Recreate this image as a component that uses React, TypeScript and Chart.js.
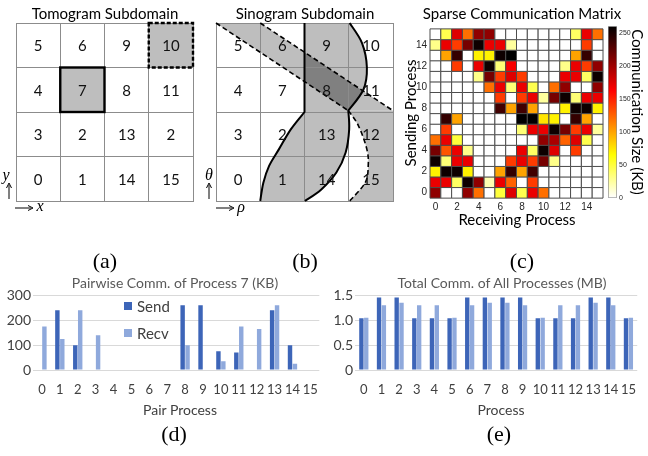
import React, { useEffect, useRef } from "react";
import { Chart, registerables } from "chart.js";
Chart.register(...registerables);

// ---------------- data ----------------
const tomogramLabels = [
  ["5", "6", "9", "10"],
  ["4", "7", "8", "11"],
  ["3", "2", "13", "2"],
  ["0", "1", "14", "15"],
];
const sinogramLabels = [
  ["5", "6", "9", "10"],
  ["4", "7", "8", "11"],
  ["3", "2", "13", "12"],
  ["0", "1", "14", "15"],
];
// highlighted tomogram cells (col = x cell, row = y cell from bottom)
const tomogramHighlights = [
  { col: 1, row: 2, dashed: false },
  { col: 3, row: 3, dashed: true },
];
// sinogram subdomain outlines, in (rho, theta) grid units
const sinoStraightLeft = [[2, 4], [2, 2]];
const sinoCurveLeft = [[2, 2], [1.69, 1.61], [1.42, 1.16], [1.2, 0.79], [1.07, 0.41], [1.0, 0]];
const sinoCurveRightUpper = [[3.02, 4], [3.3, 3.55], [3.41, 3.0], [3.33, 2.5], [2.99, 2.03]];
const sinoCurveRightLower = [[2.99, 2.03], [3.01, 1.61], [2.93, 1.09], [2.72, 0.64], [2.38, 0.26], [2.01, 0]];
const sinoDashLineA = [[0, 4], [2.99, 2.03]];
const sinoDashLineB = [[1, 4], [4, 2.03]];
const sinoDashCurve = [[2.99, 2.03], [3.22, 1.69], [3.41, 1.16], [3.44, 0.79], [3.37, 0.41], [3.02, 0]];
const sinoDiagBand = [[0, 4], [1, 4], [4, 2.03], [2.99, 2.03]];
const sinoRightBandEdge = [[2.99, 2.03], [4, 2.03], [4, 0], [3.02, 0]];

const processLabels = ["0", "1", "2", "3", "4", "5", "6", "7", "8", "9", "10", "11", "12", "13", "14", "15"];
const matrixTicks = [0, 2, 4, 6, 8, 10, 12, 14];
const colorbarTicks = [0, 50, 100, 150, 200, 250];
const colorbarMax = 260;
// commMatrix[sending][receiving] in KB
const commMatrix = [
  [205, 0, 0, 205, 120, 0, 50, 175, 45, 170, 120, 0, 0, 0, 0, 0],
  [170, 170, 40, 255, 205, 20, 170, 125, 0, 140, 0, 0, 0, 0, 0, 0],
  [70, 255, 255, 70, 0, 0, 100, 240, 100, 235, 0, 0, 0, 0, 0, 0],
  [255, 35, 170, 170, 0, 0, 0, 140, 170, 140, 215, 30, 0, 0, 0, 0],
  [215, 130, 170, 30, 0, 0, 0, 0, 170, 40, 255, 175, 0, 140, 0, 0],
  [120, 170, 50, 0, 0, 0, 0, 0, 0, 0, 205, 195, 125, 175, 45, 0],
  [0, 140, 0, 0, 0, 0, 0, 0, 35, 170, 170, 255, 215, 140, 170, 25],
  [0, 240, 100, 0, 0, 0, 0, 0, 260, 260, 75, 70, 0, 240, 100, 0],
  [0, 0, 0, 0, 0, 0, 235, 100, 235, 100, 0, 0, 70, 255, 255, 70],
  [0, 0, 0, 0, 0, 0, 140, 0, 140, 170, 25, 215, 255, 35, 170, 170],
  [0, 0, 0, 0, 0, 120, 170, 35, 170, 45, 0, 120, 205, 0, 0, 205],
  [0, 0, 0, 0, 30, 215, 140, 175, 140, 0, 0, 0, 170, 170, 40, 255],
  [0, 0, 140, 0, 170, 255, 35, 165, 0, 0, 0, 0, 30, 170, 140, 205],
  [0, 100, 240, 0, 70, 70, 255, 260, 0, 0, 0, 0, 0, 100, 240, 0],
  [30, 170, 140, 215, 255, 170, 170, 25, 0, 0, 0, 0, 0, 0, 140, 0],
  [0, 45, 175, 120, 205, 205, 0, 0, 0, 0, 0, 0, 0, 40, 170, 120],
];
const pairSendKB = [0, 240, 100, 0, 0, 0, 0, 0, 260, 260, 75, 70, 0, 240, 100, 0];
const pairRecvKB = [175, 125, 240, 140, 0, 0, 0, 0, 100, 0, 35, 175, 165, 260, 25, 0];
const totalSendMB = [1.04, 1.46, 1.46, 1.04, 1.04, 1.04, 1.46, 1.46, 1.46, 1.46, 1.04, 1.04, 1.04, 1.46, 1.46, 1.04];
const totalRecvMB = [1.05, 1.3, 1.35, 1.3, 1.3, 1.05, 1.3, 1.35, 1.35, 1.3, 1.05, 1.3, 1.3, 1.35, 1.3, 1.05];

// ---------------- styles ----------------
const SANS = "Lato, 'Liberation Sans', sans-serif";
const MATLAB = "'Liberation Sans', Arial, sans-serif";
const SERIF = "'Liberation Serif', 'DejaVu Serif', serif";
const GRID = "#8c8c8c";
const LIGHT_GRAY = "#bebebe";
const DARK_GRAY = "#808080";
const SEND_COLOR = "#3d65b8";
const RECV_COLOR = "#8fa9dc";
const AXIS_TEXT = "#404040";

function clamp01(v: number) {
  return Math.max(0, Math.min(1, v));
}
function hotColor(v: number) {
  const t = 1 - clamp01(v / colorbarMax);
  const r = clamp01(t / 0.375);
  const g = clamp01((t - 0.375) / 0.375);
  const b = clamp01((t - 0.75) / 0.25);
  return `rgb(${Math.round(r * 255)},${Math.round(g * 255)},${Math.round(b * 255)})`;
}

// ---------------- drawing helpers ----------------
function toPx(chart: any, p: number[]) {
  return [chart.scales.x.getPixelForValue(p[0]), chart.scales.y.getPixelForValue(p[1])];
}
function traceSmooth(ctx: CanvasRenderingContext2D, pts: number[][], move: boolean) {
  if (move) ctx.moveTo(pts[0][0], pts[0][1]);
  else ctx.lineTo(pts[0][0], pts[0][1]);
  for (let i = 0; i < pts.length - 1; i++) {
    const p0 = pts[i - 1] || pts[i];
    const p1 = pts[i];
    const p2 = pts[i + 1];
    const p3 = pts[i + 2] || p2;
    ctx.bezierCurveTo(
      p1[0] + (p2[0] - p0[0]) / 6,
      p1[1] + (p2[1] - p0[1]) / 6,
      p2[0] - (p3[0] - p1[0]) / 6,
      p2[1] - (p3[1] - p1[1]) / 6,
      p2[0],
      p2[1]
    );
  }
}
function tracePoly(ctx: CanvasRenderingContext2D, pts: number[][], move: boolean) {
  pts.forEach((p, i) => {
    if (i === 0 && move) ctx.moveTo(p[0], p[1]);
    else ctx.lineTo(p[0], p[1]);
  });
}
function drawCellLabels(chart: any, labels: string[][]) {
  const ctx = chart.ctx;
  ctx.save();
  ctx.fillStyle = "#111";
  ctx.font = `15px ${SANS}`;
  ctx.textAlign = "center";
  ctx.textBaseline = "middle";
  labels.forEach((row, i) => {
    row.forEach((txt, j) => {
      const [px, py] = toPx(chart, [j + 0.5, 3.5 - i]);
      ctx.fillText(txt, px, py + 1);
    });
  });
  ctx.restore();
}

function gridChartConfig(labels: string[][], before: (c: any) => void, after: (c: any) => void) {
  const axis = (isX: boolean) => ({
    type: "linear",
    min: 0,
    max: 4,
    ticks: { display: false, stepSize: 1 },
    grid: { color: GRID, drawTicks: false, lineWidth: 1 },
    border: { color: GRID },
    afterFit: (s: any) => {
      if (isX) s.height = 0;
      else s.width = 0;
    },
  });
  return {
    type: "scatter",
    data: { datasets: [] },
    options: {
      responsive: false,
      animation: false,
      events: [],
      layout: { padding: 2 },
      plugins: { legend: { display: false }, tooltip: { enabled: false } },
      scales: { x: axis(true), y: axis(false) },
    },
    plugins: [
      {
        id: "gridCells",
        beforeDraw: before,
        afterDraw: (chart: any) => {
          after(chart);
          drawCellLabels(chart, labels);
        },
      },
    ],
  };
}

function tomogramConfig() {
  return gridChartConfig(
    tomogramLabels,
    (chart: any) => {
      const ctx = chart.ctx;
      ctx.save();
      ctx.fillStyle = LIGHT_GRAY;
      tomogramHighlights.forEach((h) => {
        const [x0, y0] = toPx(chart, [h.col, h.row + 1]);
        const [x1, y1] = toPx(chart, [h.col + 1, h.row]);
        ctx.fillRect(x0, y0, x1 - x0, y1 - y0);
      });
      ctx.restore();
    },
    (chart: any) => {
      const ctx = chart.ctx;
      ctx.save();
      ctx.strokeStyle = "#000";
      ctx.lineWidth = 2.4;
      tomogramHighlights.forEach((h) => {
        const [x0, y0] = toPx(chart, [h.col, h.row + 1]);
        const [x1, y1] = toPx(chart, [h.col + 1, h.row]);
        ctx.setLineDash(h.dashed ? [4, 2] : []);
        ctx.strokeRect(x0, y0, x1 - x0, y1 - y0);
      });
      ctx.restore();
    }
  );
}

function sinogramConfig() {
  const P = (chart: any, arr: number[][]) => arr.map((p) => toPx(chart, p));
  const rev = (a: number[][]) => a.slice().reverse();
  const sBandPath = (chart: any, ctx: CanvasRenderingContext2D) => {
    ctx.beginPath();
    tracePoly(ctx, P(chart, sinoStraightLeft), true);
    traceSmooth(ctx, P(chart, sinoCurveLeft), false);
    traceSmooth(ctx, P(chart, rev(sinoCurveRightLower)), false);
    traceSmooth(ctx, P(chart, rev(sinoCurveRightUpper)), false);
    ctx.closePath();
  };
  const diagPath = (chart: any, ctx: CanvasRenderingContext2D) => {
    ctx.beginPath();
    tracePoly(ctx, P(chart, sinoDiagBand), true);
    ctx.closePath();
  };
  const rightPath = (chart: any, ctx: CanvasRenderingContext2D) => {
    ctx.beginPath();
    tracePoly(ctx, P(chart, sinoRightBandEdge), true);
    traceSmooth(ctx, P(chart, rev(sinoDashCurve)), false);
    ctx.closePath();
  };
  return gridChartConfig(
    sinogramLabels,
    (chart: any) => {
      const ctx = chart.ctx;
      ctx.save();
      ctx.fillStyle = LIGHT_GRAY;
      sBandPath(chart, ctx);
      ctx.fill();
      diagPath(chart, ctx);
      ctx.fill();
      rightPath(chart, ctx);
      ctx.fill();
      // overlap
      diagPath(chart, ctx);
      ctx.clip();
      ctx.fillStyle = DARK_GRAY;
      sBandPath(chart, ctx);
      ctx.fill();
      ctx.restore();
    },
    (chart: any) => {
      const ctx = chart.ctx;
      ctx.save();
      ctx.strokeStyle = "#000";
      ctx.lineCap = "butt";
      ctx.lineWidth = 2;
      ctx.setLineDash([]);
      ctx.beginPath();
      tracePoly(ctx, P(chart, sinoStraightLeft), true);
      traceSmooth(ctx, P(chart, sinoCurveLeft), false);
      ctx.stroke();
      ctx.beginPath();
      traceSmooth(ctx, P(chart, sinoCurveRightUpper), true);
      traceSmooth(ctx, P(chart, sinoCurveRightLower), false);
      ctx.stroke();
      ctx.lineWidth = 1.6;
      ctx.setLineDash([5, 3]);
      [sinoDashLineA, sinoDashLineB].forEach((l) => {
        ctx.beginPath();
        tracePoly(ctx, P(chart, l), true);
        ctx.stroke();
      });
      ctx.beginPath();
      traceSmooth(ctx, P(chart, sinoDashCurve), true);
      ctx.stroke();
      ctx.restore();
    }
  );
}

function matrixConfig() {
  const cells = commMatrix.flatMap((row, r) => row.map((v, c) => ({ x: c, y: r, v })));
  const axis = (isX: boolean) => ({
    type: "linear",
    min: -0.5,
    max: 15.5,
    afterBuildTicks: (s: any) => {
      s.ticks = matrixTicks.map((v) => ({ value: v }));
    },
    ticks: { font: { family: MATLAB, size: 10 }, color: "#262626", padding: 3, autoSkip: false, maxRotation: 0 },
    grid: { display: false, drawTicks: false },
    border: { display: false },
    afterFit: (s: any) => {
      if (isX) s.height = 16;
      else s.width = 28;
    },
  });
  return {
    type: "scatter",
    data: {
      datasets: [
        {
          data: cells,
          pointStyle: "rect",
          pointRadius: (ctx: any) => {
            const s = ctx.chart.scales.x;
            return Math.abs(s.getPixelForValue(1) - s.getPixelForValue(0)) * Math.SQRT1_2;
          },
          pointBackgroundColor: (ctx: any) => hotColor(ctx.raw ? ctx.raw.v : 0),
          pointBorderColor: "#4d4d4d",
          pointBorderWidth: 1,
          clip: false,
        },
      ],
    },
    options: {
      responsive: false,
      animation: false,
      events: [],
      layout: { padding: { left: 2, top: 5, right: 5, bottom: 2 } },
      plugins: { legend: { display: false }, tooltip: { enabled: false } },
      scales: { x: axis(true), y: axis(false) },
    },
  };
}

function colorbarConfig() {
  return {
    type: "bar",
    data: {
      labels: [""],
      datasets: [
        {
          data: [colorbarMax],
          backgroundColor: (ctx: any) => {
            const ca = ctx.chart.chartArea;
            if (!ca) return "#fff";
            const g = ctx.chart.ctx.createLinearGradient(0, ca.bottom, 0, ca.top);
            g.addColorStop(0, hotColor(0));
            g.addColorStop(0.25, hotColor(colorbarMax * 0.25));
            g.addColorStop(0.625, hotColor(colorbarMax * 0.625));
            g.addColorStop(1, hotColor(colorbarMax));
            return g;
          },
          borderColor: "#8c8c8c",
          borderWidth: 1,
          borderSkipped: false,
          barPercentage: 1,
          categoryPercentage: 1,
        },
      ],
    },
    options: {
      responsive: false,
      animation: false,
      events: [],
      layout: { padding: { left: 2, top: 5, bottom: 6, right: 0 } },
      plugins: { legend: { display: false }, tooltip: { enabled: false } },
      scales: {
        x: { display: false },
        y: {
          position: "right",
          min: 0,
          max: colorbarMax,
          afterBuildTicks: (s: any) => {
            s.ticks = colorbarTicks.map((v) => ({ value: v }));
          },
          ticks: { font: { family: MATLAB, size: 7 }, color: "#262626", padding: 2 },
          grid: { display: false, drawTicks: false },
          border: { display: false },
          afterFit: (s: any) => {
            s.width = 14;
          },
        },
      },
    },
  };
}

function barConfig(send: number[], recv: number[], yMax: number, yStep: number, yWidth: number, padRight: number) {
  return {
    type: "bar",
    data: {
      labels: processLabels,
      datasets: [
        { label: "Send", data: send, backgroundColor: SEND_COLOR, categoryPercentage: 0.55, barPercentage: 0.9 },
        { label: "Recv", data: recv, backgroundColor: RECV_COLOR, categoryPercentage: 0.55, barPercentage: 0.9 },
      ],
    },
    options: {
      responsive: false,
      animation: false,
      events: [],
      layout: { padding: { left: 0, top: 10, right: padRight, bottom: 0 } },
      plugins: { legend: { display: false }, tooltip: { enabled: false } },
      scales: {
        x: {
          grid: { display: false, drawTicks: false },
          border: { display: false },
          ticks: { font: { family: SANS, size: 13 }, color: AXIS_TEXT, padding: 12, autoSkip: false, maxRotation: 0 },
          afterFit: (s: any) => {
            s.height = 30;
          },
        },
        y: {
          min: 0,
          max: yMax,
          ticks: { stepSize: yStep, font: { family: SANS, size: 14 }, color: AXIS_TEXT, padding: 2 },
          grid: { color: "#d9d9d9", drawTicks: false },
          border: { display: false },
          afterFit: (s: any) => {
            s.width = yWidth;
          },
        },
      },
    },
  };
}

// ---------------- components ----------------
function ChartBox({ x, y, w, h, build }: { x: number; y: number; w: number; h: number; build: () => any }) {
  const ref = useRef<HTMLCanvasElement>(null);
  useEffect(() => {
    const chart = new Chart(ref.current as HTMLCanvasElement, build());
    return () => chart.destroy();
  }, []);
  return (
    <canvas
      ref={ref}
      width={w}
      height={h}
      style={{ position: "absolute", left: x, top: y, width: w, height: h }}
    />
  );
}

function Label(props: {
  cx: number;
  cy: number;
  text: string;
  size: number;
  family?: string;
  color?: string;
  italic?: boolean;
  rotate?: number;
}) {
  const { cx, cy, text, size, family = SANS, color = "#000", italic = false, rotate = 0 } = props;
  return (
    <div
      style={{
        position: "absolute",
        left: cx - 200,
        top: cy - size,
        width: 400,
        height: size * 2,
        lineHeight: `${size * 2}px`,
        textAlign: "center",
        fontSize: size,
        fontFamily: family,
        color,
        fontStyle: italic ? "italic" : "normal",
        whiteSpace: "nowrap",
        transform: rotate ? `rotate(${rotate}deg)` : undefined,
        pointerEvents: "none",
      }}
    >
      {text}
    </div>
  );
}

function Arrows() {
  const up = (x: number) => (
    <g key={`u${x}`}>
      <line x1={x} y1={199} x2={x} y2={185} stroke="#000" strokeWidth={1} />
      <path d={`M${x - 2.5},${188} L${x},${183} L${x + 2.5},${188}`} fill="none" stroke="#000" strokeWidth={1} />
    </g>
  );
  const right = (x: number) => (
    <g key={`r${x}`}>
      <line x1={x} y1={208} x2={x + 16} y2={208} stroke="#000" strokeWidth={1} />
      <path d={`M${x + 13},${205.5} L${x + 18},${208} L${x + 13},${210.5}`} fill="none" stroke="#000" strokeWidth={1} />
    </g>
  );
  return (
    <svg width={648} height={456} style={{ position: "absolute", left: 0, top: 0, pointerEvents: "none" }}>
      {up(9)}
      {up(209)}
      {right(15)}
      {right(216)}
    </svg>
  );
}

function Legend() {
  const item = (y: number, color: string, text: string) => (
    <div key={text} style={{ position: "absolute", left: 124, top: y, height: 10 }}>
      <div style={{ position: "absolute", left: 0, top: 1, width: 8, height: 8, background: color }} />
      <div
        style={{
          position: "absolute",
          left: 13,
          top: -5,
          lineHeight: "20px",
          fontSize: 15,
          fontFamily: SANS,
          color: AXIS_TEXT,
          whiteSpace: "nowrap",
        }}
      >
        {text}
      </div>
    </div>
  );
  return (
    <>
      {item(301, SEND_COLOR, "Send")}
      {item(328, RECV_COLOR, "Recv")}
    </>
  );
}

export default function App() {
  return (
    <div style={{ position: "fixed", left: 0, top: 0, width: 648, height: 456, background: "#fff", overflow: "hidden" }}>
      <ChartBox x={14} y={21} w={181} h={182} build={tomogramConfig} />
      <ChartBox x={214} y={21} w={181} h={182} build={sinogramConfig} />
      <ChartBox x={400} y={20} w={208} h={196} build={matrixConfig} />
      <ChartBox x={606} y={20} w={25} h={184} build={colorbarConfig} />
      <ChartBox
        x={0}
        y={285}
        w={330}
        h={115}
        build={() => barConfig(pairSendKB, pairRecvKB, 300, 100, 33, 3)}
      />
      <ChartBox
        x={330}
        y={285}
        w={318}
        h={115}
        build={() => barConfig(totalSendMB, totalRecvMB, 1.5, 0.5, 25, 1)}
      />

      <Arrows />
      <Legend />

      <Label cx={105} cy={13} text="Tomogram Subdomain" size={15} />
      <Label cx={305} cy={13} text="Sinogram Subdomain" size={15} />
      <Label cx={522} cy={13} text="Sparse Communication Matrix" size={15} />
      <Label cx={6} cy={175} text="y" size={16} family={SERIF} italic />
      <Label cx={40} cy={206} text="x" size={16} family={SERIF} italic />
      <Label cx={209} cy={175} text="θ" size={16} family={SERIF} italic />
      <Label cx={241} cy={207} text="ρ" size={16} family={SERIF} italic />

      <Label cx={410} cy={113} text="Sending Process" size={15} rotate={-90} />
      <Label cx={517} cy={219} text="Receiving Process" size={15} />
      <Label cx={638} cy={112} text="Communication Size (KB)" size={15} rotate={90} />

      <Label cx={105} cy={261} text="(a)" size={22} family={SERIF} />
      <Label cx={305} cy={261} text="(b)" size={22} family={SERIF} />
      <Label cx={522} cy={261} text="(c)" size={22} family={SERIF} />

      <Label cx={175} cy={283} text="Pairwise Comm. of Process 7 (KB)" size={14} color="#595959" />
      <Label cx={502} cy={283} text="Total Comm. of All Processes (MB)" size={14} color="#595959" />
      <Label cx={180} cy={410} text="Pair Process" size={14} color={AXIS_TEXT} />
      <Label cx={501} cy={410} text="Process" size={14} color={AXIS_TEXT} />
      <Label cx={174} cy={434} text="(d)" size={22} family={SERIF} />
      <Label cx={499} cy={434} text="(e)" size={22} family={SERIF} />
    </div>
  );
}
